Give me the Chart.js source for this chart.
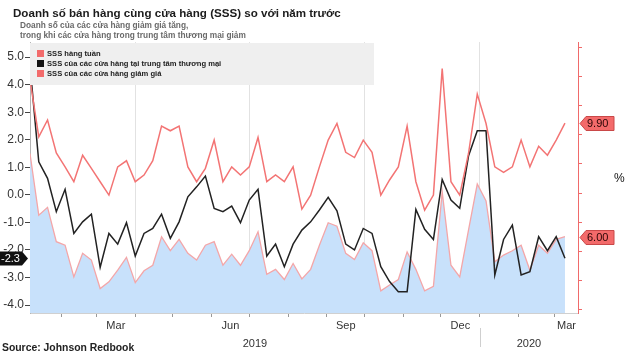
<!DOCTYPE html>
<html>
<head>
<meta charset="utf-8">
<script src="https://cdn.jsdelivr.net/npm/chart.js@4.4.1/dist/chart.umd.min.js"></script>
<style>
  body { margin: 0; background: #fff; font-family: "Liberation Sans", Arial, sans-serif; }
  #wrap { position: relative; width: 630px; height: 354px; overflow: hidden; }
  #chart { position: absolute; left: 0; top: 0; }
  .txt { position: absolute; white-space: nowrap; }
  #title { left: 13px; top: 6px; font-size: 11.6px; font-weight: bold; color: #1b1b1b; }
  #sub { left: 20px; top: 20px; font-size: 8.3px; font-weight: bold; color: #6a6a6a; line-height: 10px; }
  #legend { position: absolute; left: 30px; top: 43px; width: 344px; height: 42px; background: #efefef; }
  .item { position: absolute; left: 7px; font-size: 7.6px; font-weight: bold; color: #222; white-space: nowrap; line-height: 10px; }
  .item i { display: inline-block; width: 7px; height: 7px; margin-right: 3px; vertical-align: -1px; }
  #pct { left: 614px; top: 171px; font-size: 12px; color: #111; }
  #source { left: 2px; top: 342px; font-size: 10.4px; font-weight: bold; color: #222; }
</style>
</head>
<body>
<div id="wrap">
  <canvas id="chart" width="630" height="354"></canvas>
  <div class="txt" id="title">Doanh số bán hàng cùng cửa hàng (SSS) so với năm trước</div>
  <div class="txt" id="sub">Doanh số của các cửa hàng giảm giá tăng,<br>trong khi các cửa hàng trong trung tâm thương mại giảm</div>
  <div id="legend">
    <div class="item" style="top:6px"><i style="background:#f26b6b"></i>SSS hàng tuần</div>
    <div class="item" style="top:16px"><i style="background:#111"></i>SSS của các cửa hàng tại trung tâm thương mại</div>
    <div class="item" style="top:26px"><i style="background:#f26b6b"></i>SSS của các cửa hàng giảm giá</div>
  </div>
  <div class="txt" id="pct">%</div>
  <div class="txt" id="source">Source: Johnson Redbook</div>
</div>
<script>
// weekly readings, Jan 2019 - Mar 2020
const weekly = [11.4, 9.43, 10.01, 8.88, 8.40, 7.89, 8.80, 8.35, 7.89, 7.43, 8.40, 8.61, 7.89, 8.12, 8.61, 9.80,
  9.64, 9.80, 8.40, 7.89, 8.35, 9.32, 7.89, 8.40, 8.12, 8.40, 9.41, 7.89, 8.12, 7.89, 8.40, 6.95,
  7.43, 8.40, 9.32, 9.89, 8.90, 8.72, 9.32, 8.90, 7.43, 7.95, 8.40, 9.80, 7.89, 6.91, 7.43,
  11.78, 7.89, 7.43, 8.86, 10.90, 9.89, 8.40, 8.21, 8.40, 9.32, 8.40, 9.11, 8.80, 9.32, 9.90];
const mall = [4.7, 1.2, 0.6, -0.61, 0.2, -1.4, -0.98, -0.7, -2.63, -1.4, -1.79, -1.01, -2.22, -1.4, -1.22, -0.7,
  -1.58, -0.98, -0.07, 0.29, 0.68, -0.49, -0.61, -0.41, -1.01, -0.19, 0.2, -2.22, -1.79, -2.61, -1.79, -1.28,
  -0.98, -0.55, -0.09, -0.58, -1.79, -2.0, -1.22, -1.4, -2.61, -3.15, -3.52, -3.52, -0.53, -1.25, -1.62,
  0.56, -0.19, -0.49, 1.41, 2.33, 2.33, -2.91, -1.62, -1.1, -2.91, -2.79, -1.52, -2.03, -1.52, -2.3];
const discount = [8.86, 6.74, 7.01, 5.83, 5.71, 4.62, 5.43, 5.20, 4.22, 4.45, 4.85, 5.29, 4.42, 4.83, 5.02, 6.00,
  5.52, 5.91, 5.43, 5.20, 5.71, 5.83, 5.02, 5.40, 5.02, 5.52, 6.17, 4.71, 4.88, 4.53, 5.08, 4.55,
  4.88, 5.71, 6.48, 6.36, 5.43, 5.22, 5.79, 5.52, 4.14, 4.34, 4.53, 5.48, 4.88, 4.14, 4.30,
  7.54, 5.02, 4.62, 6.23, 7.81, 7.23, 5.14, 5.37, 5.52, 5.71, 4.85, 5.71, 5.43, 5.91, 6.00];

// x axis is days since 1 Jan 2019
const firstDay = 6;          // 7 Jan 2019
const lastDay = 443.4;       // right edge of the plot
const weekDays = weekly.map((_, i) => firstDay + 7 * i);

const monthStarts = [31, 59, 90, 120, 151, 181, 212, 243, 273, 304, 334, 365, 396, 425];
const quarterLines = [90, 181, 273, 365];
const monthLabels = [['Mar', 59, 90], ['Jun', 151, 181], ['Sep', 243, 273], ['Dec', 334, 365], ['Mar', 425, lastDay]];
const yearLabels = [['2019', firstDay, 365], ['2020', 365, lastDay]];
const leftTicks = [-4, -3, -2, -1, 0, 1, 2, 3, 4, 5];
const rightTicks = [3.5, 4, 4.5, 5, 5.5, 6, 6.5, 7, 7.5, 8, 8.5, 9, 9.5, 10, 10.5, 11, 11.5, 12, 12.5];

const xTicks = [];
monthStarts.forEach(d => xTicks.push({ value: d, kind: 'month', text: '' }));
monthLabels.forEach(m => xTicks.push({ value: (m[1] + m[2]) / 2, kind: 'label', text: m[0] }));
yearLabels.forEach(y => xTicks.push({ value: (y[1] + y[2]) / 2, kind: 'label', text: ['', y[0]] }));
xTicks.sort((a, b) => a.value - b.value);

const toXY = arr => arr.map((v, i) => ({ x: weekDays[i], y: v }));

Chart.defaults.font.family = '"Liberation Sans", Arial, sans-serif';

// value tags at the end of each series + the year separator
const tagPlugin = {
  id: 'tags',
  afterDatasetsDraw(chart) {
    const ctx = chart.ctx;
    const y = chart.scales.y, y1 = chart.scales.y1, x = chart.scales.x;
    ctx.save();
    ctx.font = '11px "Liberation Sans", Arial, sans-serif';
    ctx.textBaseline = 'middle';

    function rightTag(val) {
      const py = Math.round(y1.getPixelForValue(val)) + 0.5;
      ctx.beginPath();
      ctx.moveTo(580, py);
      ctx.lineTo(586, py - 7);
      ctx.lineTo(614, py - 7);
      ctx.lineTo(614, py + 7);
      ctx.lineTo(586, py + 7);
      ctx.closePath();
      ctx.fillStyle = '#f36a6a';
      ctx.fill();
      ctx.strokeStyle = '#c94848';
      ctx.lineWidth = 1;
      ctx.stroke();
      ctx.fillStyle = '#2a0505';
      ctx.textAlign = 'left';
      ctx.fillText(val.toFixed(2), 587, py + 0.5);
    }
    rightTag(weekly[weekly.length - 1]);
    rightTag(discount[discount.length - 1]);

    const last = mall[mall.length - 1];
    const py = Math.round(y.getPixelForValue(last)) + 0.5;
    ctx.beginPath();
    ctx.moveTo(0, py - 7);
    ctx.lineTo(22, py - 7);
    ctx.lineTo(28, py);
    ctx.lineTo(22, py + 7);
    ctx.lineTo(0, py + 7);
    ctx.closePath();
    ctx.fillStyle = '#111';
    ctx.fill();
    ctx.fillStyle = '#fff';
    ctx.textAlign = 'left';
    ctx.fillText(last.toFixed(1), 1, py + 0.5);

    // separator between 2019 and 2020
    const sx = Math.round(x.getPixelForValue(365)) + 0.5;
    ctx.strokeStyle = '#cfcfcf';
    ctx.beginPath();
    ctx.moveTo(sx, 328);
    ctx.lineTo(sx, 347);
    ctx.stroke();
    ctx.restore();
  }
};

new Chart(document.getElementById('chart').getContext('2d'), {
  type: 'line',
  data: {
    datasets: [
      {
        label: 'SSS hàng tuần',
        data: toXY(weekly),
        yAxisID: 'y1',
        borderColor: '#f37474',
        borderWidth: 1.5,
        pointRadius: 0,
        tension: 0
      },
      {
        label: 'SSS của các cửa hàng tại trung tâm thương mại',
        data: toXY(mall),
        yAxisID: 'y',
        borderColor: '#222',
        borderWidth: 1.5,
        pointRadius: 0,
        tension: 0
      },
      {
        label: 'SSS của các cửa hàng giảm giá',
        data: toXY(discount),
        yAxisID: 'y1',
        borderColor: '#f4a6a8',
        backgroundColor: '#c8e1fb',
        fill: 'start',
        borderWidth: 1.3,
        pointRadius: 0,
        tension: 0
      }
    ]
  },
  options: {
    responsive: false,
    animation: false,
    layout: { padding: { top: 42, left: 0, right: 0, bottom: 0 } },
    plugins: { legend: { display: false }, tooltip: { enabled: false } },
    scales: {
      x: {
        type: 'linear',
        min: firstDay,
        max: lastDay,
        afterBuildTicks: s => { s.ticks = xTicks.map(t => ({ value: t.value })); },
        afterFit: s => { s.height = 41; },
        ticks: {
          autoSkip: false,
          maxRotation: 0,
          minRotation: 0,
          padding: 0,
          color: '#333',
          font: { size: 11, lineHeight: 1.65 },
          callback: (v, i) => xTicks[i].text
        },
        grid: {
          drawTicks: true,
          tickLength: 4,
          color: c => (c.tick && quarterLines.includes(c.tick.value)) ? '#e2e2e2' : 'rgba(0,0,0,0)',
          tickColor: c => (c.tick && monthStarts.includes(c.tick.value)) ? '#999' : 'rgba(0,0,0,0)'
        },
        border: { display: true, color: '#d0d0d0' }
      },
      y: {
        position: 'left',
        min: -4.29,
        max: 5.55,
        afterBuildTicks: s => { s.ticks = leftTicks.map(v => ({ value: v })); },
        afterFit: s => { s.width = 30; },
        ticks: {
          padding: 1,
          color: '#333',
          font: { size: 12 },
          callback: v => v.toFixed(1)
        },
        grid: { drawOnChartArea: false, tickLength: 5, tickColor: '#444' },
        border: { display: true, color: '#b5b5b5' }
      },
      y1: {
        position: 'right',
        min: 3.38,
        max: 12.69,
        afterBuildTicks: s => { s.ticks = rightTicks.map(v => ({ value: v })); },
        afterFit: s => { s.width = 52; },
        ticks: {
          padding: 1,
          color: '#444',
          font: { size: 11 },
          callback: v => Number.isInteger(v) ? v.toFixed(2) : ''
        },
        grid: {
          tickLength: 4,
          color: c => (c.tick && Number.isInteger(c.tick.value)) ? '#e3e3e3' : 'rgba(0,0,0,0)',
          tickColor: '#f06a6a'
        },
        border: { display: true, color: '#f06a6a' }
      }
    }
  },
  plugins: [tagPlugin]
});
</script>
</body>
</html>
